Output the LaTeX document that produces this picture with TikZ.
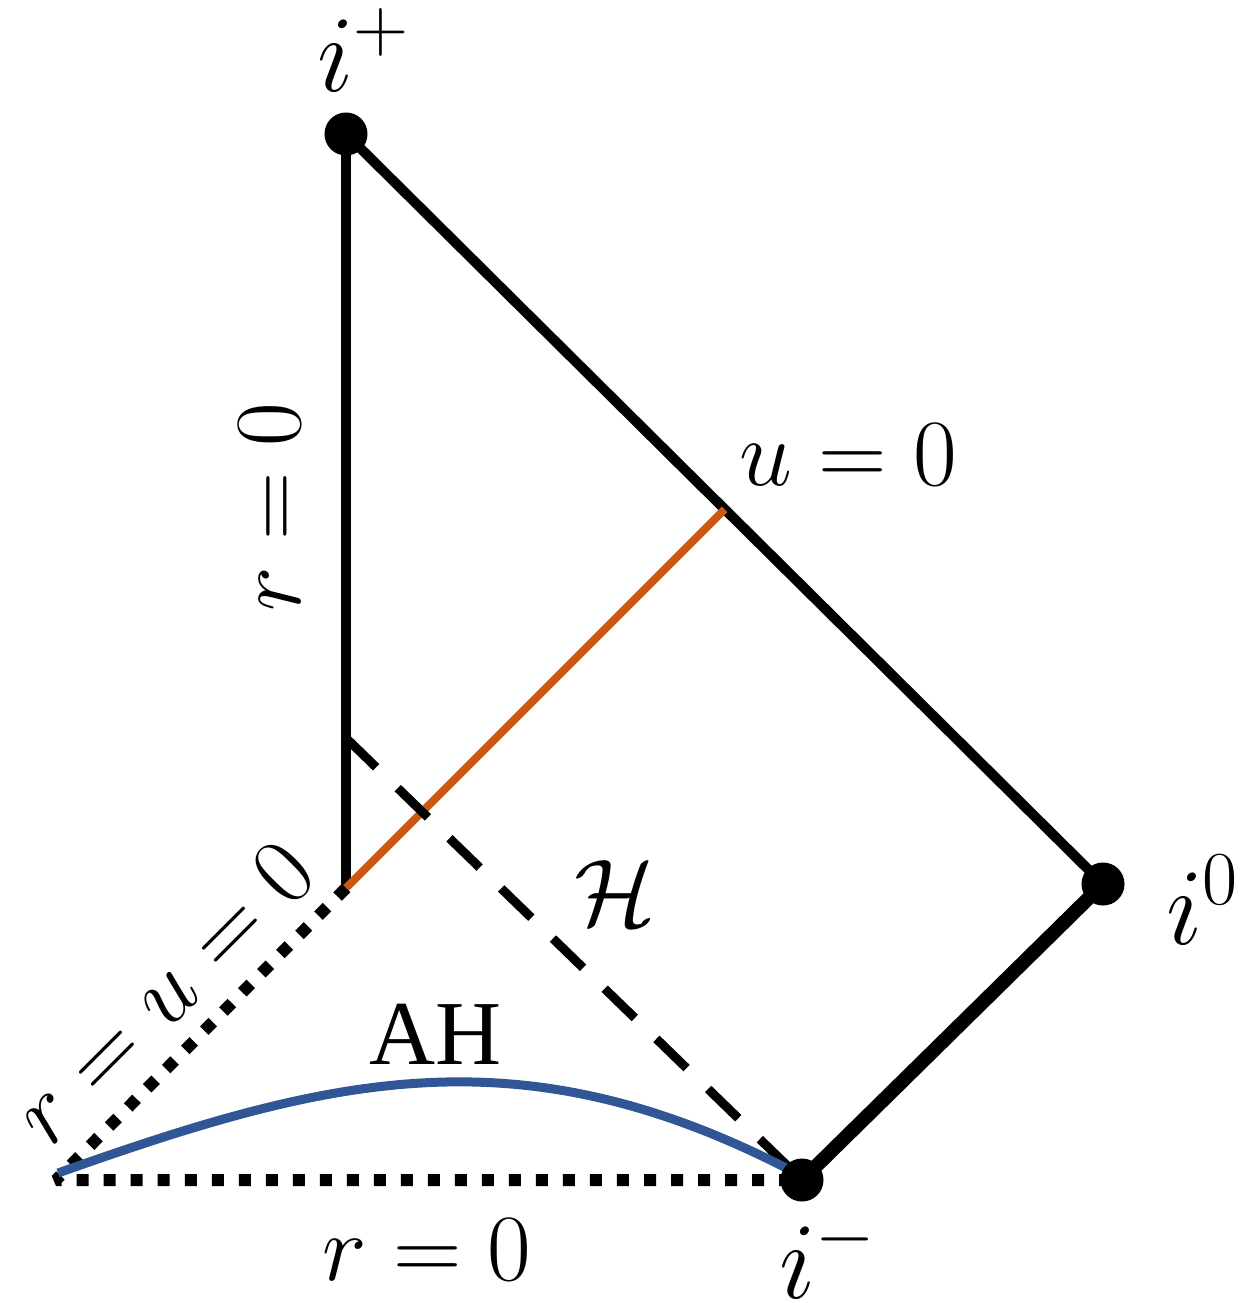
\RequirePackage{fix-cm}
\documentclass[tikz,border=0pt]{standalone}
\usepackage{amsmath}
\usepackage{fontspec}
\newfontfamily\timesfam{Liberation Serif}
\definecolor{horange}{RGB}{200,90,20}
\definecolor{ahblue}{RGB}{48,86,150}
\begin{document}
\begin{tikzpicture}[x=0.01cm,y=-0.01cm,
  wl/.style={line width=0.1cm, black},
  thickwl/.style={line width=0.14cm, black},
  orangel/.style={line width=0.08cm, horange},
  bluel/.style={line width=0.09cm, ahblue},
  dashH/.style={line width=0.09cm, dash pattern=on 0.42cm off 0.30cm},
  dotl/.style={line width=0.12cm, dash pattern=on 0.12cm off 0.15cm, line join=bevel},
  dotnode/.style={circle, fill=black, inner sep=0pt, minimum size=0.43cm},
  lab/.style={font=\fontsize{27}{32}\selectfont, inner sep=0pt},
  plab/.style={font=\fontsize{31}{36}\selectfont, inner sep=0pt}]
\useasboundingbox (0,0) rectangle (1241,1303);
\coordinate (ip) at (346,134);
\coordinate (io) at (1103,884);
\coordinate (im) at (802,1180);
\coordinate (O) at (346,888);
\coordinate (C) at (56,1180);
\coordinate (Hs) at (346,738);
\coordinate (U) at (724.7,509.3);
\coordinate (A1) at (58,1173);
\coordinate (A2) at (792,1171);
% lines
\draw[wl] (ip) -- (O);
\draw[wl] (ip) -- (io);
\draw[thickwl] (io) -- (im);
\draw[orangel] (O) -- (U);
\draw[dashH] (Hs) -- (im);
\draw[dotl] (O) -- (C) -- (im);
\draw[bluel] (A1) .. controls (331,1076) and (520,1030) .. (A2);
% dots
\node[dotnode] (ipn) at (ip) {};
\node[dotnode] (ion) at (io) {};
\node[dotnode] (imn) at (im) {};
% labels
\node[plab] (lip) at (364,50) {$i^+$};
\node[plab] (lio) at (1203,900) {$i^0$};
\node[plab] (lim) at (828,1256) {$i^-$};
\node[lab] (lu) at (848,455) {$u=0$};
\node[lab, rotate=90] (lr) at (270,507) {$r=0$};
\node[lab, rotate=45] (lru) at (163,992) {$r=u=0$};
\node[lab] (lH) at (615,893) {$\mathcal{H}$};
\node[lab, font=\fontsize{26}{30}\selectfont\timesfam] (lAH) at (436,1034) {AH};
\node[lab] (lrb) at (427,1250) {$r=0$};
\end{tikzpicture}
\end{document}
